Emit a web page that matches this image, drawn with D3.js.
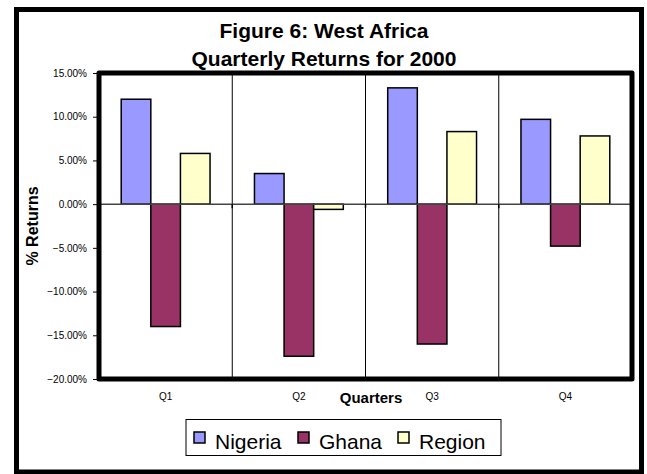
<!DOCTYPE html>
<html>
<head>
<meta charset="utf-8">
<script src="https://cdn.jsdelivr.net/npm/d3@7"></script>
<style>
  body { margin: 0; background: #fff; }
  text { font-family: Arial, "Liberation Sans", sans-serif; fill: #000; }
</style>
</head>
<body>
<svg width="647" height="474"></svg>
<script>
// data
var quarters = ["Q1", "Q2", "Q3", "Q4"];
var seriesNames = ["Nigeria", "Ghana", "Region"];
var nigeria = [0.120, 0.035, 0.133, 0.097];
var ghana = [-0.140, -0.174, -0.160, -0.048];
var region = [0.058, -0.006, 0.083, 0.078];
var yTicks = [0.15, 0.10, 0.05, 0, -0.05, -0.10, -0.15, -0.20];
var colors = ["#9999ff", "#993366", "#ffffcc"];

var svg = d3.select("svg");

// plot box (window.top is taken, so prefixed names)
var pLeft = 99, pRight = 632, pTop = 73, pBottom = 379;

var x = d3.scaleBand().domain(quarters).range([pLeft, pRight]);
var xInner = d3.scaleBand().domain(seriesNames)
    .range([0, x.bandwidth()]).paddingOuter(0.75);
var y = d3.scaleLinear().domain([-0.20, 0.15]).range([pBottom, pTop]);
var color = d3.scaleOrdinal().domain(seriesNames).range(colors);

// outer frame
svg.append("rect")
    .attr("x", 16.5).attr("y", 9.5)
    .attr("width", 625).attr("height", 462.5)
    .attr("fill", "#fff").attr("stroke", "#000").attr("stroke-width", 5);

// title
var title = svg.append("text")
    .attr("text-anchor", "middle")
    .style("font-weight", "bold").style("font-size", "21px");
title.append("tspan").attr("x", 324).attr("y", 38).text("Figure 6: West Africa");
title.append("tspan").attr("x", 324).attr("y", 66).text("Quarterly Returns for 2000");

// plot area background
svg.append("rect")
    .attr("x", pLeft).attr("y", pTop)
    .attr("width", pRight - pLeft).attr("height", pBottom - pTop)
    .attr("fill", "#fff");

// category gridlines
svg.append("g")
  .selectAll("line")
  .data(quarters.slice(1))
  .enter().append("line")
    .attr("x1", function(d) { return x(d); })
    .attr("x2", function(d) { return x(d); })
    .attr("y1", pTop).attr("y2", pBottom)
    .attr("stroke", "#000").attr("stroke-width", 1);

// bars
var rows = quarters.map(function(q, i) {
  return { q: q, values: [nigeria[i], ghana[i], region[i]] };
});

svg.append("g")
  .selectAll("g")
  .data(rows)
  .enter().append("g")
    .attr("transform", function(d) { return "translate(" + x(d.q) + ",0)"; })
  .selectAll("rect")
  .data(function(d) {
    return d.values.map(function(v, j) { return { name: seriesNames[j], v: v }; });
  })
  .enter().append("rect")
    .attr("x", function(d) { return xInner(d.name); })
    .attr("y", function(d) { return y(Math.max(0, d.v)); })
    .attr("width", xInner.bandwidth())
    .attr("height", function(d) { return Math.abs(y(d.v) - y(0)); })
    .attr("fill", function(d) { return color(d.name); })
    .attr("stroke", "#000").attr("stroke-width", 1.5);

// zero line + tick marks at category boundaries
svg.append("line")
    .attr("x1", pLeft).attr("x2", pRight)
    .attr("y1", y(0)).attr("y2", y(0))
    .attr("stroke", "#444").attr("stroke-width", 1.5);

svg.append("g")
  .selectAll("line")
  .data(quarters.slice(1))
  .enter().append("line")
    .attr("x1", function(d) { return x(d); })
    .attr("x2", function(d) { return x(d); })
    .attr("y1", y(0)).attr("y2", y(0) + 4)
    .attr("stroke", "#000").attr("stroke-width", 1.5);

// plot border
svg.append("rect")
    .attr("x", pLeft).attr("y", pTop)
    .attr("width", pRight - pLeft).attr("height", pBottom - pTop)
    .attr("fill", "none").attr("stroke", "#000").attr("stroke-width", 5)
    .attr("stroke-linejoin", "round");

// y axis
var yAxis = d3.axisLeft(y)
    .tickValues(yTicks)
    .tickFormat(d3.format(".2%"))
    .tickSize(4).tickPadding(6);

var yg = svg.append("g")
    .attr("transform", "translate(" + (pLeft - 2) + ",0)")
    .call(yAxis);
yg.select(".domain").remove();
yg.selectAll("text")
    .style("font-size", "10px")
    .style("font-family", "Arial, 'Liberation Sans', sans-serif");

// x labels
svg.append("g")
  .selectAll("text")
  .data(quarters)
  .enter().append("text")
    .attr("x", function(d) { return x(d) + x.bandwidth() / 2; })
    .attr("y", 400)
    .attr("text-anchor", "middle")
    .style("font-size", "10px")
    .text(function(d) { return d; });

// axis titles
svg.append("text")
    .attr("x", 371).attr("y", 403)
    .attr("text-anchor", "middle")
    .style("font-weight", "bold").style("font-size", "15px")
    .text("Quarters");

svg.append("text")
    .attr("transform", "translate(38,226) rotate(-90)")
    .attr("text-anchor", "middle")
    .style("font-weight", "bold").style("font-size", "16px")
    .text("% Returns");

// legend
var legend = svg.append("g");
legend.append("rect")
    .attr("x", 186).attr("y", 419.5)
    .attr("width", 315).attr("height", 36)
    .attr("fill", "#fff").attr("stroke", "#000").attr("stroke-width", 1);

var legendX = [194, 298, 398];
var items = legend.selectAll(".item")
  .data(seriesNames)
  .enter().append("g")
    .attr("class", "item")
    .attr("transform", function(d, i) { return "translate(" + legendX[i] + ",0)"; });

items.append("rect")
    .attr("x", 0).attr("y", 432)
    .attr("width", 11).attr("height", 11)
    .attr("fill", function(d) { return color(d); })
    .attr("stroke", "#000").attr("stroke-width", 1.5);

items.append("text")
    .attr("x", 21).attr("y", 449)
    .style("font-size", "21px")
    .text(function(d) { return d; });
</script>
</body>
</html>
